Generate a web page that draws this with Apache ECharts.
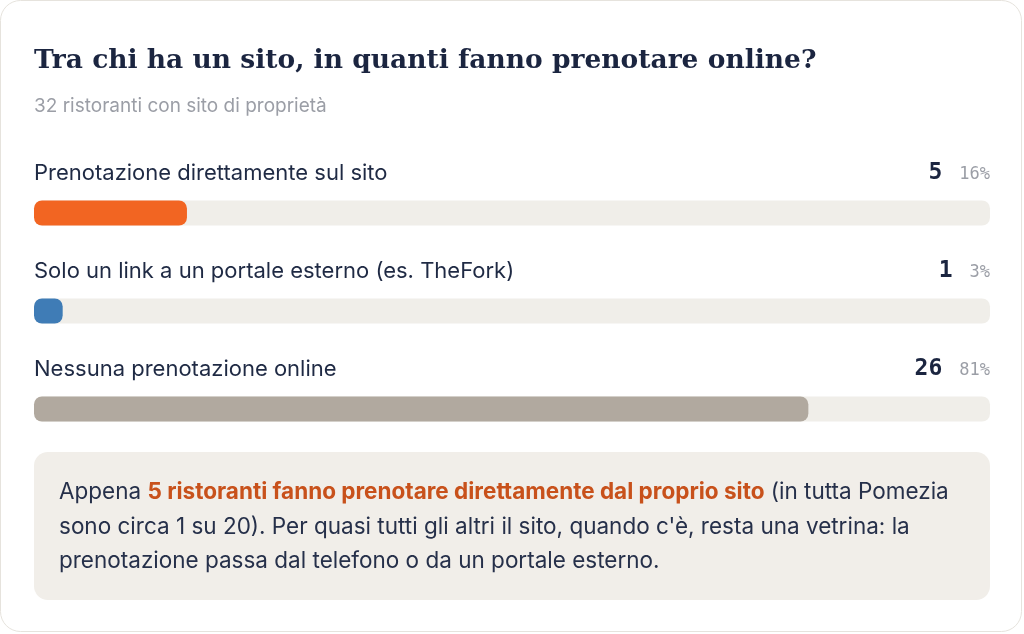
<!DOCTYPE html>
<html>
<head>
<meta charset="utf-8">
<script src="https://cdn.jsdelivr.net/npm/echarts@6.0.0/dist/echarts.min.js"></script>
<style>
  html, body { margin: 0; padding: 0; background: #ffffff; }
  #main { width: 1024px; height: 634px; }
</style>
</head>
<body>
<div id="main"></div>
<script type="text/javascript">
	// dati del grafico
	var categories = ['Prenotazione direttamente sul sito', 'Solo un link a un portale esterno (es. TheFork)', 'Nessuna prenotazione online'];
	var counts = [5, 1, 26];
	var percents = [16, 3, 81];
	var barColors = ['#f26522', '#3f7cb6', '#b1a99f'];

	var myChart = echarts.init(document.getElementById('main'));

	var sans = 'Inter, "Noto Sans", sans-serif';
	var mono = '"DejaVu Sans Mono", monospace';

	var option = {
		backgroundColor : '#ffffff',
		animation : false,
		title : [ {
			text : 'Tra chi ha un sito, in quanti fanno prenotare online?',
			left : 34,
			top : 48,
			padding : 0,
			textStyle : {
				fontFamily : '"DejaVu Serif", Georgia, serif',
				fontWeight : 'bold',
				fontSize : 26.5,
				color : '#1b2540'
			}
		}, {
			text : '32 ristoranti con sito di proprietà',
			left : 34,
			top : 97,
			padding : 0,
			textStyle : {
				fontFamily : sans,
				fontWeight : 'normal',
				fontSize : 19,
				color : '#9b9ea6'
			}
		} ],
		grid : {
			left : 34,
			right : 34,
			top : 164,
			height : 294
		},
		xAxis : {
			type : 'value',
			min : 0,
			max : 100,
			show : false
		},
		yAxis : {
			type : 'category',
			inverse : true,
			data : categories,
			show : false
		},
		series : [ {
			type : 'bar',
			barWidth : 25,
			data : percents.map(function(v, i) {
				return {
					value : v,
					itemStyle : { color : barColors[i] }
				};
			}),
			itemStyle : { borderRadius : 8 },
			showBackground : true,
			backgroundStyle : {
				color : '#f0eee9',
				borderRadius : 8
			},
			label : {
				show : true,
				position : [ 0, -27 ],
				align : 'left',
				verticalAlign : 'middle',
				fontFamily : sans,
				fontSize : 22,
				color : '#1f2a44',
				formatter : function(p) {
					return p.name;
				}
			},
			z : 2
		}, {
			// serie invisibile per le etichette a destra
			type : 'bar',
			barWidth : 25,
			barGap : '-100%',
			data : percents.map(function() { return 100; }),
			itemStyle : { color : 'rgba(0,0,0,0)' },
			silent : true,
			label : {
				show : true,
				position : [ '100%', -27 ],
				align : 'right',
				verticalAlign : 'middle',
				formatter : function(p) {
					return '{v|' + counts[p.dataIndex] + '}{p|' + percents[p.dataIndex] + '%}';
				},
				rich : {
					v : {
						fontFamily : mono,
						fontWeight : 'bold',
						fontSize : 23,
						color : '#1b2540'
					},
					p : {
						fontFamily : mono,
						fontSize : 17,
						color : '#9b9ea6',
						padding : [ 3, 0, 0, 17 ]
					}
				}
			},
			z : 3
		} ],
		graphic : [ {
			type : 'rect',
			shape : { x : 0.5, y : 0.5, width : 1021, height : 631, r : 20 },
			style : { fill : 'none', stroke : '#e6e3dd', lineWidth : 1 },
			z : -10
		}, {
			type : 'rect',
			shape : { x : 34, y : 452, width : 956, height : 148, r : 14 },
			style : { fill : '#f1eee9' },
			z : -5
		}, {
			type : 'text',
			left : 59,
			top : 475,
			style : {
				text : 'Appena {h|5 ristoranti fanno prenotare direttamente dal proprio sito} (in tutta Pomezia\n'
					+ 'sono circa 1 su 20). Per quasi tutti gli altri il sito, quando c\'è, resta una vetrina: la\n'
					+ 'prenotazione passa dal telefono o da un portale esterno.',
				font : '22.5px ' + sans,
				fill : '#26304a',
				lineHeight : 34.5,
				rich : {
					h : {
						fontFamily : sans,
						fontSize : 22.5,
						fontWeight : 'bold',
						fill : '#c8511b',
						lineHeight : 34.5
					}
				}
			}
		} ]
	};

	myChart.setOption(option);
</script>
</body>
</html>
